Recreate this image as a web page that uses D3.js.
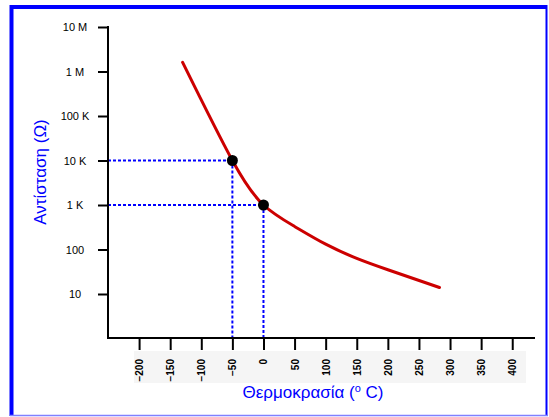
<!DOCTYPE html>
<html><head><meta charset="utf-8">
<script src="https://cdn.jsdelivr.net/npm/d3@7"></script>
<style>body{margin:0;background:#fff}svg{display:block}text{font-family:"Liberation Sans",Arial,sans-serif}</style>
</head><body>
<svg id="c" width="549" height="417"></svg>
<script>
// Data
const temps = [-130, -50, 0, 50, 100, 150, 200, 283];
const resistance = [1.6e6, 1.0e4, 1.0e3, 330, 132, 63, 35, 14];
const markedTemps = [-50, 0];
const markedRes = [1e4, 1e3];
const yTickValues = [10, 100, 1e3, 1e4, 1e5, 1e6, 1e7];
const yTickLabels = ["10", "100", "1 K", "10 K", "100 K", "1 M", "10 M"];
const xTickValues = [-200, -150, -100, -50, 0, 50, 100, 150, 200, 250, 300, 350, 400];
const xTitle = "Θερμοκρασία";
const yTitle = "Αντίσταση (Ω)";

const svg = d3.select("#c");
const blue = "#0000ff";

// frame
svg.append("rect").attr("x",0).attr("y",0).attr("width",549).attr("height",417).attr("fill","#fff");
svg.append("line").attr("x1",10).attr("x2",547).attr("y1",7).attr("y2",7).attr("stroke",blue).attr("stroke-width",4);
svg.append("line").attr("x1",11.5).attr("x2",11.5).attr("y1",5).attr("y2",416).attr("stroke",blue).attr("stroke-width",4);
svg.append("line").attr("x1",546.5).attr("x2",546.5).attr("y1",5).attr("y2",416).attr("stroke",blue).attr("stroke-width",2);
svg.append("line").attr("x1",10).attr("x2",548).attr("y1",415.5).attr("y2",415.5).attr("stroke","#8080ff").attr("stroke-width",1.5);

const x = d3.scaleLinear().domain([-250, 435]).range([108, 534]);
const y = d3.scaleLog().domain([10, 1e7]).range([294, 27]);
const yBottom = 338;

// label band
svg.append("rect").attr("x",134).attr("y",351).attr("width",392).attr("height",32).attr("fill","#f5f5f5");

// dashed guides
const g = svg.append("g");
markedTemps.forEach((t,i)=>{
  g.append("line").attr("x1",x(-250)).attr("x2",x(t)).attr("y1",y(markedRes[i])).attr("y2",y(markedRes[i]))
   .attr("stroke",blue).attr("stroke-width",2).attr("stroke-dasharray","3,2");
  g.append("line").attr("x1",x(t)).attr("x2",x(t)).attr("y1",y(markedRes[i])).attr("y2",yBottom)
   .attr("stroke",blue).attr("stroke-width",2).attr("stroke-dasharray","3,2");
});

// curve
const pts = temps.map((t,i)=>[t,resistance[i]]);
svg.append("path").datum(pts)
  .attr("d", d3.line().x(d=>x(d[0])).y(d=>y(d[1])).curve(d3.curveNatural))
  .attr("fill","none").attr("stroke","#cc0000").attr("stroke-width",3).attr("stroke-linecap","round");

svg.selectAll("circle.m").data(markedTemps).join("circle")
  .attr("cx",d=>x(d)).attr("cy",(d,i)=>y(markedRes[i])).attr("r",5.5).attr("fill","#000");

// y axis
const yAxis = d3.axisLeft(y).tickValues(yTickValues).tickSize(10).tickFormat((d,i)=>yTickLabels[i]);
const ya = svg.append("g").attr("transform","translate(108,0)").call(yAxis);
ya.select(".domain").remove();
ya.selectAll(".tick line").attr("stroke","#000").attr("stroke-width",2);
ya.selectAll(".tick text").attr("x",-33).attr("text-anchor","middle").attr("font-size",11).attr("fill","#000")
  .attr("font-family","'Liberation Sans',Arial,sans-serif");
svg.append("line").attr("x1",108).attr("x2",108).attr("y1",26).attr("y2",yBottom+1).attr("stroke","#000").attr("stroke-width",2);

// x axis
const xAxis = d3.axisBottom(x).tickValues(xTickValues).tickSize(12);
const xa = svg.append("g").attr("transform",`translate(0,${yBottom})`).call(xAxis);
xa.select(".domain").remove();
xa.selectAll(".tick line").attr("stroke","#000").attr("stroke-width",2);
xa.selectAll(".tick text").attr("transform","rotate(-90)").attr("x",-21).attr("y",0).attr("dy","0.35em")
  .attr("text-anchor","end").attr("font-size",10).attr("font-weight","bold").attr("fill","#000")
  .attr("font-family","'Liberation Sans',Arial,sans-serif");
svg.append("line").attr("x1",107).attr("x2",535).attr("y1",yBottom).attr("y2",yBottom).attr("stroke","#000").attr("stroke-width",2);

// titles
const xt = svg.append("text").attr("x",313).attr("y",398).attr("text-anchor","middle").attr("fill",blue).attr("font-size",17);
xt.append("tspan").text(xTitle + " (");
xt.append("tspan").attr("font-size",11).attr("dy",-6).text("o");
xt.append("tspan").attr("dy",6).text(" C)");

svg.append("text").attr("transform","translate(46,172) rotate(-90)").attr("text-anchor","middle")
  .attr("fill",blue).attr("font-size",17).text(yTitle);
</script>
</body></html>
